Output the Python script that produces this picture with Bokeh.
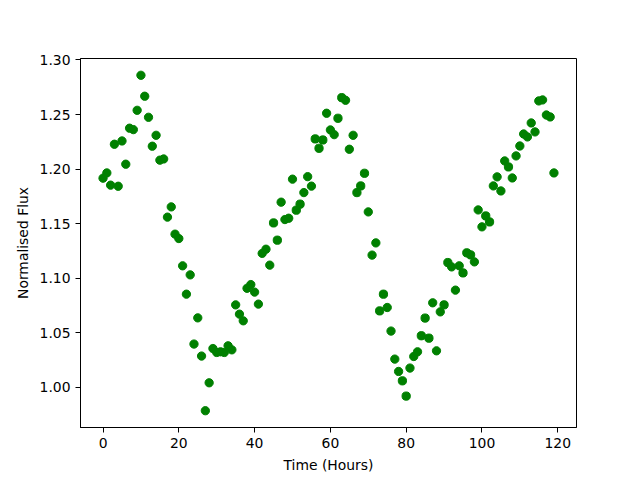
from bokeh.plotting import figure
from bokeh.models import Range1d, FixedTicker, NumeralTickFormatter, ColumnDataSource
from bokeh.embed import file_html
from bokeh.resources import INLINE

hours = list(range(120))
flux = [
    1.1917, 1.1965, 1.1853, 1.2228, 1.1843, 1.2258, 1.2045, 1.2375, 1.2362, 1.2539,
    1.2860, 1.2668, 1.2475, 1.2210, 1.2310, 1.2082, 1.2093, 1.1560, 1.1654, 1.1404,
    1.1364, 1.1114, 1.0854, 1.1031, 1.0397, 1.0637, 1.0287, 0.9786, 1.0042, 1.0356,
    1.0320, 1.0326, 1.0320, 1.0381, 1.0344, 1.0756, 1.0671, 1.0610, 1.0908, 1.0942,
    1.0873, 1.0763, 1.1228, 1.1266, 1.1120, 1.1507, 1.1349, 1.1697, 1.1538, 1.1550,
    1.1908, 1.1624, 1.1679, 1.1785, 1.1931, 1.1844, 1.2277, 1.2191, 1.2267, 1.2512,
    1.2359, 1.2316, 1.2466, 1.2655, 1.2631, 1.2182, 1.2310, 1.1785, 1.1846, 1.1962,
    1.1608, 1.1212, 1.1324, 1.0701, 1.0854, 1.0732, 1.0516, 1.0259, 1.0146, 1.0060,
    0.9920, 1.0177, 1.0283, 1.0326, 1.0473, 1.0635, 1.0451, 1.0775, 1.0335, 1.0692,
    1.0756, 1.1144, 1.1104, 1.0891, 1.1114, 1.1049, 1.1233, 1.1214, 1.1150, 1.1626,
    1.1471, 1.1571, 1.1516, 1.1846, 1.1929, 1.1800, 1.2075, 1.2020, 1.1919, 1.2121,
    1.2212, 1.2322, 1.2295, 1.2423, 1.2341, 1.2625, 1.2634, 1.2496, 1.2478, 1.1965,
]
x_ticks = [0, 20, 40, 60, 80, 100, 120]
y_ticks = [1.00, 1.05, 1.10, 1.15, 1.20, 1.25, 1.30]
x_label = "Time (Hours)"
y_label = "Normalised Flux"

source = ColumnDataSource(data=dict(hours=hours, flux=flux))

span_x = max(hours) - min(hours)
span_y = max(flux) - min(flux)

p = figure(width=640, height=480, output_backend="svg", toolbar_location=None,
           x_range=Range1d(min(hours) - 0.05 * span_x, max(hours) + 0.05 * span_x),
           y_range=Range1d(min(flux) - 0.05 * span_y, max(flux) + 0.05 * span_y),
           min_border_left=80, min_border_right=64, min_border_top=58, min_border_bottom=53)

p.scatter("hours", "flux", source=source, size=8.3, fill_color="green", line_color="green")

p.grid.visible = False
p.outline_line_color = "black"
p.outline_line_alpha = 1.0
p.outline_line_width = 1
p.background_fill_color = "white"
p.border_fill_color = "white"

font = "DejaVu Sans"
for ax in (p.xaxis[0], p.yaxis[0]):
    ax.axis_line_color = "black"
    ax.major_tick_line_color = "black"
    ax.major_tick_out = 5
    ax.major_tick_in = 0
    ax.minor_tick_line_color = None
    ax.major_label_text_font = font
    ax.major_label_text_font_size = "13.9px"
    ax.major_label_text_color = "black"
    ax.axis_label_text_font = font
    ax.axis_label_text_font_size = "13.9px"
    ax.axis_label_text_font_style = "normal"
    ax.axis_label_text_color = "black"
    ax.major_label_standoff = 5
    ax.axis_label_standoff = 6

p.xaxis.ticker = FixedTicker(ticks=x_ticks)
p.yaxis.ticker = FixedTicker(ticks=y_ticks)
p.yaxis.formatter = NumeralTickFormatter(format="0.00")
p.xaxis.axis_label = x_label
p.yaxis.axis_label = y_label

open("out.html", "w").write(file_html(p, INLINE))
